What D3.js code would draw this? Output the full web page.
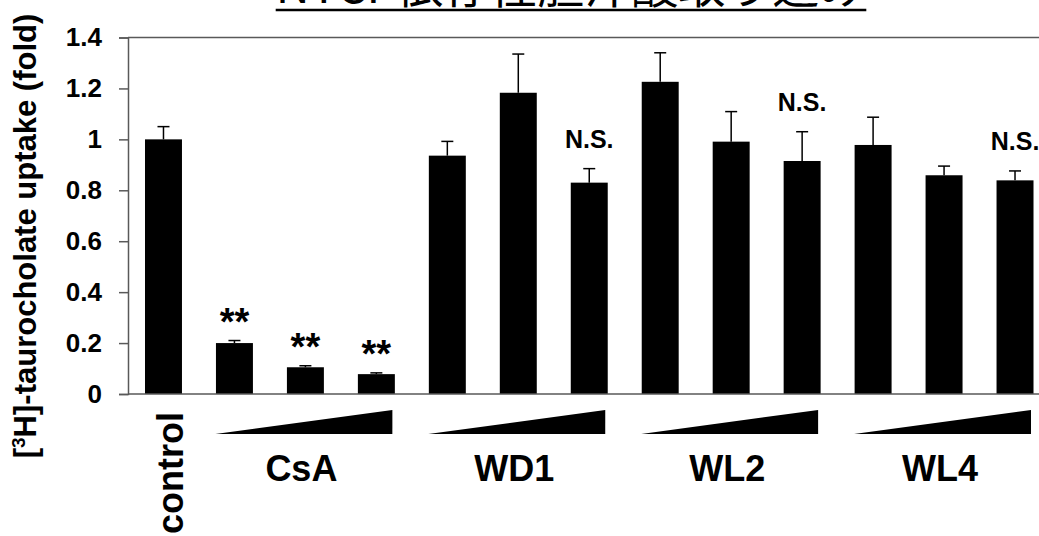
<!DOCTYPE html>
<html>
<head>
<meta charset="utf-8">
<script src="https://cdn.jsdelivr.net/npm/d3@7"></script>
<style>
  body { margin: 0; background: #fff; }
  svg { display: block; }
  text { font-family: Arial, "Liberation Sans", sans-serif; }
</style>
</head>
<body>
<svg id="chart" width="1039" height="536"></svg>
<script>
// bar data, left to right
const categories = ["control", "CsA-1", "CsA-2", "CsA-3", "WD1-1", "WD1-2", "WD1-3",
  "WL2-1", "WL2-2", "WL2-3", "WL4-1", "WL4-2", "WL4-3"];
const values = [1.0, 0.2, 0.105, 0.078, 0.936, 1.183, 0.83, 1.226, 0.991, 0.915, 0.978, 0.859, 0.839];
const errors = [0.05, 0.01, 0.006, 0.005, 0.056, 0.152, 0.055, 0.114, 0.118, 0.115, 0.109, 0.036, 0.037];
const marks = ["", "**", "**", "**", "", "", "N.S.", "", "", "N.S.", "", "", "N.S."];
const groupNames = ["CsA", "WD1", "WL2", "WL4"];
const yTicks = [0, 0.2, 0.4, 0.6, 0.8, 1, 1.2, 1.4];
const yTickLabels = ["0", "0.2", "0.4", "0.6", "0.8", "1", "1.2", "1.4"];
const title = "NTCP依存性胆汁酸取り込み";

const svg = d3.select("#chart");
const axisColor = "#595959";

const x = d3.scaleBand()
  .domain(categories)
  .range([128, 1050.5])
  .paddingInner(0.479)
  .paddingOuter(0.2395);
const y = d3.scaleLinear().domain([0, 1.4]).range([394, 37.5]);

// title (mostly cut off at the top edge, as in the source figure)
const t = svg.append("text")
  .attr("x", 571)
  .attr("y", 3)
  .attr("text-anchor", "middle")
  .style("font-family", "'Noto Sans CJK JP', sans-serif")
  .style("font-size", "47px")
  .attr("fill", "#000")
  .text(title);
const tw = t.node().getComputedTextLength();
svg.append("line")
  .attr("x1", 571 - tw / 2).attr("x2", 571 + tw / 2)
  .attr("y1", 10).attr("y2", 10)
  .attr("stroke", "#000").attr("stroke-width", 2.5);

// top line at 1.4
svg.append("line")
  .attr("x1", 128).attr("x2", 1050)
  .attr("y1", y(1.4)).attr("y2", y(1.4))
  .attr("stroke", axisColor).attr("stroke-width", 1.5);

// y axis
const yAxis = svg.append("g")
  .attr("transform", "translate(128,0)")
  .call(d3.axisLeft(y).tickValues(yTicks).tickSize(9).tickPadding(17)
    .tickFormat((d, i) => yTickLabels[i]));
yAxis.select(".domain").attr("stroke", axisColor).attr("stroke-width", 1.5);
yAxis.selectAll(".tick line").attr("stroke", axisColor).attr("stroke-width", 1.5);
yAxis.selectAll(".tick text")
  .attr("fill", "#000")
  .style("font-size", "26px")
  .style("font-weight", "bold")
  .style("font-family", "Arial, 'Liberation Sans', sans-serif");

// bars
svg.append("g")
  .selectAll("rect")
  .data(categories)
  .join("rect")
  .attr("x", (d) => x(d))
  .attr("y", (d, i) => y(values[i]))
  .attr("width", x.bandwidth())
  .attr("height", (d, i) => y(0) - y(values[i]))
  .attr("fill", "#000");

svg.append("line")
  .attr("x1", 128).attr("x2", 1050)
  .attr("y1", y(0)).attr("y2", y(0))
  .attr("stroke", axisColor).attr("stroke-width", 1.5);

// error bars (upper only)
const eb = svg.append("g").attr("stroke", "#000").attr("stroke-width", 1.5);
categories.forEach((c, i) => {
  const cx = x(c) + x.bandwidth() / 2;
  eb.append("line")
    .attr("x1", cx).attr("x2", cx)
    .attr("y1", y(values[i])).attr("y2", y(values[i] + errors[i]));
  eb.append("line")
    .attr("x1", cx - 6).attr("x2", cx + 6)
    .attr("y1", y(values[i] + errors[i])).attr("y2", y(values[i] + errors[i]));
});

// significance marks
svg.append("g")
  .selectAll("text")
  .data(categories)
  .join("text")
  .attr("x", (d) => x(d) + x.bandwidth() / 2)
  .attr("y", (d, i) => y(values[i] + errors[i]) - (marks[i] === "**" ? 6 : 21))
  .attr("text-anchor", "middle")
  .style("font-weight", "bold")
  .style("font-size", (d, i) => (marks[i] === "**" ? "38px" : "25px"))
  .text((d, i) => marks[i]);

// dose wedges and group labels
groupNames.forEach((g) => {
  const members = categories.filter((c) => c.startsWith(g + "-"));
  const left = x(members[0]) - 0.5;
  const right = x(members[members.length - 1]) + x.bandwidth() - 2.5;
  svg.append("path")
    .attr("d", `M${left},434 L${right},434 L${right},410 Z`)
    .attr("fill", "#000");
  svg.append("text")
    .attr("x", x(members[1]) + x.bandwidth() / 2 - 4)
    .attr("y", 481)
    .attr("text-anchor", "middle")
    .style("font-weight", "bold")
    .style("font-size", "36px")
    .text(g);
});

// control label (vertical)
svg.append("text")
  .attr("transform", `translate(${x("control") + x.bandwidth() / 2 + 20},412) rotate(-90)`)
  .attr("text-anchor", "end")
  .style("font-weight", "bold")
  .style("font-size", "36px")
  .text("control");

// y axis title
const yt = svg.append("text")
  .attr("transform", "translate(36,236) rotate(-90)")
  .attr("text-anchor", "middle")
  .style("font-weight", "bold")
  .style("font-size", "31px");
yt.append("tspan").text("[");
yt.append("tspan").attr("dy", -11).style("font-size", "19px").text("3");
yt.append("tspan").attr("dy", 11).text("H]-taurocholate uptake (fold)");
</script>
</body>
</html>
